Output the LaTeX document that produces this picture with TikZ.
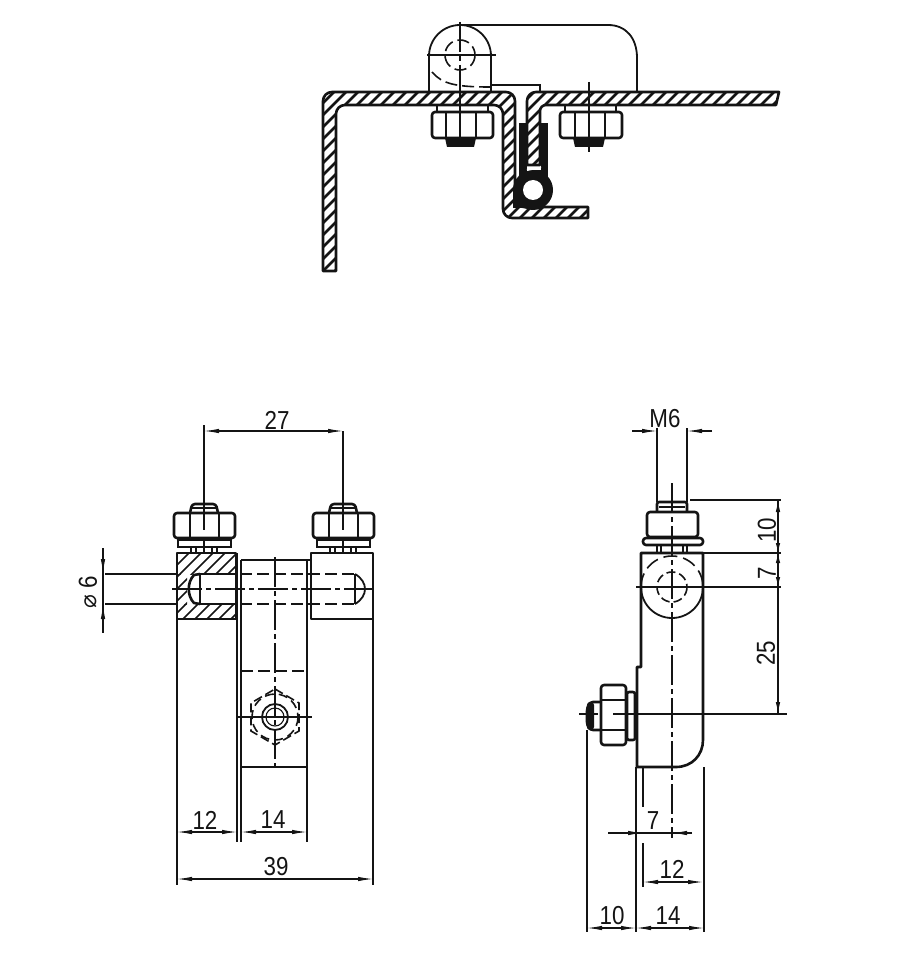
\documentclass[tikz,border=0pt]{standalone}
\usepackage{fontspec}
\setmainfont[FakeStretch=0.86]{Liberation Sans}
\newfontfamily\symfont{DejaVu Sans}
\usetikzlibrary{arrows.meta}
\definecolor{ink}{gray}{0.08}
\tikzset{
  x=1pt,y=-1pt,
  outline/.style={draw=ink,line width=2.6pt,line join=round},
  medium/.style={draw=ink,line width=1.8pt},
  thin line/.style={draw=ink,line width=1.1pt},
  centre/.style={draw=ink,line width=1.1pt,dash pattern=on 30pt off 4pt on 5pt off 4pt},
  hidden/.style={draw=ink,line width=1.6pt,dash pattern=on 12pt off 5pt},
  hatchline/.style={draw=ink,line width=2.6pt},
  thinhatch/.style={draw=ink,line width=1.5pt},
  dimline/.style={draw=ink,line width=1.1pt},
  dimboth/.style={dimline,{Latex[length=15pt,width=4.5pt]}-{Latex[length=15pt,width=4.5pt]}},
  lab/.style={font=\fontsize{26}{26}\selectfont,text=ink,inner sep=0pt,outer sep=0pt}
}
\newcommand{\hatchfill}[5]{% style, path, from, second, to
  \begin{scope}
    \clip #2;
    \foreach \k in {#3,#4,...,#5} \draw[#1] (\k,0) -- (\k-900,900);
  \end{scope}
}
\begin{document}
\begin{tikzpicture}
\useasboundingbox (0,0) rectangle (900,976);

% ---------- TOP VIEW ----------
% bracket outline
\draw[medium] (429,92) -- (429,56) arc[start angle=180,end angle=360,radius=31] -- (491,92);
\draw[medium] (460,25) -- (608,25) .. controls (626,25) and (637,38) .. (637,58) -- (637,92);
\draw[medium] (491,85) -- (540,85) -- (540,92);
\draw[hidden] (460,55) circle (15);
\draw[hidden] (432,72) .. controls (442,84) and (456,87) .. (490,87);
\draw[centre] (460,22) -- (460,142);
\draw[thin line] (427,55) -- (496,55);
\draw[thin line] (589,82) -- (589,152);

% nuts under the sheet
\draw[medium] (437,105) -- (437,112) (488,105) -- (488,112);
\draw[outline,rounded corners=3pt] (432,112) rectangle (493,138);
\draw[medium] (446,112) -- (446,138) (476,112) -- (476,138);
\fill[ink] (445,138) -- (447,147) -- (474,147) -- (476,138) -- cycle;
\draw[medium] (565,105) -- (565,112) (616,105) -- (616,112);
\draw[outline,rounded corners=3pt] (560,112) rectangle (622,138);
\draw[medium] (575,112) -- (575,138) (605,112) -- (605,138);
\fill[ink] (573,138) -- (575,147) -- (603,147) -- (605,138) -- cycle;
\draw[thin line] (460,105) -- (460,135);

% spring clip and roller
\fill[ink] (519,123) rectangle (527,192);
\fill[ink] (541,123) rectangle (548,178);
\fill[ink] (527,170) rectangle (541,182);
\fill[ink] (533,190) circle (20);
\fill[ink] (513,190) rectangle (533,208);
\fill[white] (533,190) circle (10);
\draw[white,line width=2pt] (527,170) -- (541,167);

% left sheet
\def\sheetA{(323,271) [rounded corners=9pt] -- (323,92) -- (515,92) -- (515,207) [sharp corners] -- (588,207) -- (588,218) [rounded corners=9pt] -- (503,218) -- (503,105) -- (336,105) [sharp corners] -- (336,271) -- cycle}
\hatchfill{hatchline}{\sheetA}{330}{342}{1000}
\draw[outline] \sheetA;
% right sheet
\def\sheetB{(779,92) [rounded corners=9pt] -- (527,92) [sharp corners] -- (527,165) -- (540,165) [rounded corners=6pt] -- (540,105) [sharp corners] -- (776,105) -- cycle}
\hatchfill{hatchline}{\sheetB}{530}{542}{1000}
\draw[outline] \sheetB;
\draw[thin line] (460,92) -- (460,105) (589,92) -- (589,105);

% ---------- FRONT VIEW ----------
% extension lines
\draw[thin line] (177,619) -- (177,885);
\draw[thin line] (237,619) -- (237,842);
\draw[thin line] (241,767) -- (241,842);
\draw[thin line] (307,767) -- (307,842);
\draw[thin line] (373,619) -- (373,885);
\draw[thin line] (204,425) -- (204,530);
\draw[thin line] (343,431) -- (343,530);

% studs, washers, nuts
\foreach \c in {204,343}{
  \draw[outline,rounded corners=3pt,fill=white] (\c-14,513) -- (\c-12,504) -- (\c+12,504) -- (\c+14,513);
  \draw[medium] (\c-12,508) -- (\c+12,508);
  \draw[outline,rounded corners=3pt,fill=white] (\c-30,513) rectangle (\c+31,538);
  \draw[medium] (\c-14,513) -- (\c-14,538) (\c+15,513) -- (\c+15,538);
  \draw[medium,fill=white] (\c-26,540) rectangle (\c+27,547);
  \draw[medium] (\c-13,547) -- (\c-13,553) (\c+13,547) -- (\c+13,553) (\c-8,547) -- (\c-8,553) (\c+8,547) -- (\c+8,553);
  \draw[thin line] (\c,505) -- (\c,530);
  \draw[thin line] (\c,538) -- (\c,553);
}

% left block (section)
\def\blockTop{(177,553) rectangle (236,574)}
\def\blockBot{(177,604) rectangle (236,619)}
\def\blockLeft{(177,574) rectangle (187,604)}
\hatchfill{thinhatch}{\blockTop}{730}{742}{860}
\hatchfill{thinhatch}{\blockBot}{730}{742}{860}
\hatchfill{thinhatch}{\blockLeft}{730}{742}{860}
\draw[outline] (177,553) rectangle (236,619);
\draw[outline,fill=white] (200,574) -- (194,575) .. controls (187,582) and (187,596) .. (194,603) -- (200,604);
\draw[outline] (236,574) -- (200,574) -- (200,604) -- (236,604);
% right block
\draw[outline] (311,553) rectangle (373,619);
\draw[hidden] (240,574) -- (355,574) (240,604) -- (355,604);
\draw[medium] (355,574) .. controls (362,578) and (365,584) .. (365,589) .. controls (365,594) and (362,600) .. (355,604);
\draw[medium] (355,574) -- (355,604);
% middle strap
\draw[outline] (241,560) -- (307,560);
\draw[outline] (241,560) -- (241,767) -- (307,767) -- (307,560);
\draw[medium] (237,619) -- (237,553) (311,560) -- (307,560);
\draw[hidden] (241,671) -- (307,671);
\draw[centre] (275,557) -- (275,771);
\draw[centre] (172,589) -- (374,589);
% nut behind strap
\draw[hidden,dash pattern=on 9pt off 4pt] (275,689) -- (299,703) -- (299,731) -- (275,745) -- (251,731) -- (251,703) -- cycle;
\draw[hidden,dash pattern=on 9pt off 5pt] (275,717) circle (23);
\draw[medium] (275,717) circle (13);
\draw[thin line] (275,717) circle (9);
\draw[thin line] (237,717) -- (312,717);

% dimensions, front view
\draw[dimboth] (204,431) -- (343,431);
\node[lab] (d27) at (277,420) {27};
\draw[thin line] (105,574) -- (177,574) (105,604) -- (177,604);
\draw[dimline] (103,548) -- (103,633);
\draw[dimline,-{Latex[length=15pt,width=4.5pt]}] (103,558) -- (103,574);
\draw[dimline,-{Latex[length=15pt,width=4.5pt]}] (103,620) -- (103,604);
\node[lab,rotate=90] (dphi) at (88,592) {{\symfont\fontsize{23}{23}\selectfont ⌀} 6};
\draw[dimboth] (177,832) -- (237,832);
\node[lab] (d12a) at (205,820) {12};
\draw[dimboth] (241,832) -- (307,832);
\node[lab] (d14a) at (273,820) {14};
\draw[dimboth] (177,879) -- (373,879);
\node[lab] (d39) at (276,867) {39};

% ---------- SIDE VIEW ----------
\draw[thin line] (657,428) -- (657,502) (687,428) -- (687,502);
\draw[dimline,{Latex[length=15pt,width=4.5pt]}-] (657,431) -- (632,431);
\draw[dimline,-{Latex[length=15pt,width=4.5pt]}] (712,431) -- (687,431);
\node[lab] (dm6) at (665,419) {M6};

% head of the screw
\draw[outline,fill=white,rounded corners=2pt] (657,512) -- (657,502) -- (687,502) -- (687,512);
\draw[medium] (659,507) -- (685,507);
\draw[outline,rounded corners=3pt] (647,512) rectangle (698,537);
\draw[outline,rounded corners=3pt] (643,538) rectangle (703,545);
\draw[medium] (657,545) -- (657,553) (661,545) -- (661,553) (683,545) -- (683,553) (687,545) -- (687,553);

% body
\draw[outline] (637,767) -- (637,667) -- (641,667) -- (641,553) -- (703,553) -- (703,740) .. controls (703,755) and (692,767) .. (676,767) -- (637,767);
\draw[thin line] (643,767) -- (643,807) (643,843) -- (643,887);
\draw[centre] (672,483) -- (672,838);
\draw[medium] (641,587) arc[start angle=180,end angle=0,radius=31];
\draw[hidden,dash pattern=on 14pt off 6pt] (641,587) arc[start angle=180,end angle=360,radius=31];
\draw[hidden,dash pattern=on 9pt off 4pt] (672,587) circle (15);

% side nut
\draw[outline,rounded corners=3pt] (601,685) rectangle (626,745);
\draw[medium] (601,700) -- (626,700) (601,730) -- (626,730);
\draw[outline,rounded corners=2pt] (627,692) rectangle (635,740);
\fill[ink,rounded corners=3pt] (587,702) rectangle (594,730);
\draw[outline,rounded corners=3pt] (600,702) -- (590,702) -- (587,708) -- (587,725) -- (590,730) -- (600,730);

% dimension lines, side view
\draw[thin line] (690,500) -- (781,500);
\draw[thin line] (703,553) -- (781,553);
\draw[thin line] (636,587) -- (781,587);
\draw[thin line] (613,714) -- (787,714) (579,714) -- (598,714);
\draw[dimline] (778,500) -- (778,714);
\draw[dimline,-{Latex[length=12pt,width=4.5pt]}] (778,514) -- (778,500);
\draw[dimline,{Latex[length=10pt,width=4.5pt]}-{Latex[length=10pt,width=4.5pt]}] (778,553) -- (778,587);
\draw[dimline,-{Latex[length=12pt,width=4.5pt]}] (778,700) -- (778,714);
\draw[dimline,-{Latex[length=10pt,width=4.5pt]}] (778,539) -- (778,553);
\node[lab,rotate=90] (d10v) at (767,530) {10};
\node[lab,rotate=90] (d7v) at (767,573) {7};
\node[lab,rotate=90] (d25) at (766,653) {25};

\draw[thin line] (587,730) -- (587,932);
\draw[thin line] (636,767) -- (636,932);
\draw[thin line] (704,767) -- (704,932);
\draw[dimline] (608,833) -- (692,833);
\draw[dimline,-{Latex[length=15pt,width=4.5pt]}] (622,833) -- (643,833);
\draw[dimline,-{Latex[length=15pt,width=4.5pt]}] (692,833) -- (672,833);
\node[lab] (d7h) at (653,821) {7};
\draw[dimboth] (643,882) -- (703,882);
\node[lab] (d12b) at (672,869) {12};
\draw[dimboth] (587,928) -- (636,928);
\draw[dimboth] (636,928) -- (704,928);
\node[lab] (d10h) at (612,916) {10};
\node[lab] (d14b) at (668,916) {14};
\end{tikzpicture}
\end{document}
